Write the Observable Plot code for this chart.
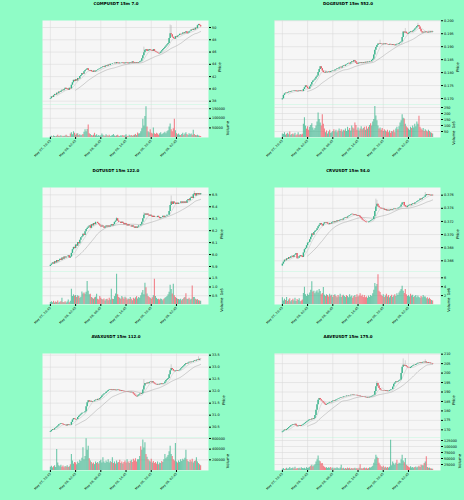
<!DOCTYPE html>
<html><head><meta charset="utf-8">
<script src="https://cdn.jsdelivr.net/npm/d3@7"></script>
<script src="https://cdn.jsdelivr.net/npm/@observablehq/plot@0.6"></script>
<style>
html,body{margin:0;padding:0;background:#8ffcc6;overflow:hidden}
#fig{position:relative;width:464px;height:500px;font-family:"DejaVu Sans",sans-serif}
.pl{position:absolute}
#titles{position:absolute;left:0;top:0;pointer-events:none}
</style></head><body><div id="fig"></div>
<script>
// ---------- time axis ----------
const year = 2024;
const firstCandle = "May 07, 20:45";
const tickLabels = ["May 07, 20:45","May 08, 02:45","May 08, 08:45","May 08, 14:45","May 08, 20:45","May 09, 02:45"];

// ---------- titles ----------
const titles = ["COMPUSDT 15m 7.0","DOGEUSDT 15m 552.0","DOTUSDT 15m 122.0","CRVUSDT 15m 54.0","AVAXUSDT 15m 112.0","AAVEUSDT 15m 175.0"];

// ---------- COMP ----------
const compOpen0 = 38.3;
const compClose = [38.4,38.7,38.6,38.9,39.1,39.0,39.3,39.2,39.5,39.4,
39.6,39.8,39.7,39.9,40.1,39.9,40.0,39.8,40.1,40.0,
40.6,41.0,41.4,41.2,41.5,41.3,41.7,41.6,42.0,42.2,
42.5,42.4,42.8,43.0,43.1,43.3,43.0,42.9,43.0,42.8,
42.7,42.9,42.75,42.9,43.0,43.1,43.2,43.3,43.4,43.5,
43.6,43.5,43.7,43.8,43.7,43.9,43.8,44.0,44.0,44.1,
44.1,44.2,44.1,44.3,44.2,44.1,44.2,44.2,44.3,44.2,
44.1,44.2,44.3,44.2,44.1,44.2,44.3,44.2,44.4,44.2,
44.3,44.2,44.3,44.2,44.3,44.4,44.5,44.9,45.4,45.9,
46.3,46.4,46.1,46.2,46.4,46.3,46.2,46.1,46.4,46.1,
46.0,45.9,45.8,45.7,45.8,46.0,46.2,46.4,46.6,46.8,
47.0,47.2,47.4,48.2,49.0,48.8,48.4,48.2,48.1,48.5,
48.4,48.6,48.7,48.9,48.8,48.9,49.1,49.0,49.2,49.3,
49.0,49.1,49.3,49.4,49.6,49.5,49.7,49.6,49.9,49.8,
50.3,50.5,50.3,50.1];
const compVolK = [4,6,3,8,5,4,7,12,5,6,
9,4,6,5,8,12,6,5,4,18,
25,14,30,22,12,18,20,10,14,9,
12,15,28,40,30,42,65,20,15,10,
8,12,22,9,14,7,10,6,9,18,
12,8,6,14,9,7,12,5,8,10,
16,8,6,9,12,7,5,9,8,11,
6,9,14,7,5,12,8,10,6,9,
12,16,10,24,18,20,30,45,95,60,
110,160,55,30,25,40,22,18,50,20,
15,22,18,12,20,25,14,18,22,28,
20,30,35,55,70,40,30,45,95,35,
20,14,18,12,10,15,22,12,18,25,
15,10,20,14,18,12,38,15,10,9,
12,8,6,5];
const compSpikes = [[89,46.8],[114,50.4],[115,50.3]];
const compPriceTicks = [38,40,42,44,46,48,50];
const compVolTicks = [50000,100000,150000];

// ---------- DOGE ----------
const dogeOpen0 = 0.1695;
const dogeClose = [.1699,.1712,.1718,.1721,.1719,.1722,.1725,.1723,.1726,.1728,
.1727,.1729,.1731,.1728,.1726,.1729,.1727,.1730,.1728,.1727,
.1735,.1742,.1749,.1744,.1738,.1736,.1745,.1752,.1762,.1768,
.1771,.1775,.1782,.1787,.1800,.1812,.1823,.1815,.1806,.1800,
.1798,.1802,.1799,.1801,.1803,.1800,.1804,.1805,.1807,.1806,
.1810,.1812,.1815,.1814,.1819,.1821,.1818,.1823,.1826,.1824,
.1829,.1831,.1834,.1836,.1833,.1838,.1842,.1840,.1847,.1843,
.1836,.1831,.1834,.1837,.1835,.1838,.1836,.1839,.1837,.1840,
.1838,.1841,.1840,.1843,.1842,.1847,.1852,.1868,.1886,.1897,
.1905,.1910,.1908,.1911,.1909,.1907,.1910,.1908,.1911,.1909,
.1908,.1906,.1909,.1907,.1905,.1908,.1906,.1904,.1907,.1909,
.1908,.1912,.1915,.1918,.1935,.1957,.1953,.1956,.1951,.1948,
.1952,.1955,.1958,.1956,.1960,.1963,.1968,.1972,.1978,.1982,
.1976,.1966,.1958,.1953,.1956,.1954,.1957,.1955,.1953,.1956,
.1954,.1957,.1955,.1957];
const dogeVol1e5 = [30,25,40,20,28,35,22,45,18,25,
30,20,35,15,22,40,18,25,20,28,
110,165,95,70,90,60,85,100,114,80,
60,75,95,130,205,150,120,95,190,110,
70,40,55,30,45,60,35,40,50,65,
45,60,40,55,70,50,65,45,60,55,
70,50,85,60,75,55,95,80,70,120,
100,60,80,55,70,90,65,75,85,60,
90,70,85,100,115,95,130,150,258,180,
140,95,70,80,60,75,50,65,55,45,
60,40,55,35,50,45,60,40,70,85,
65,90,120,140,190,160,155,110,90,80,
70,60,85,75,95,80,110,90,130,110,
178,85,70,60,75,50,65,55,45,60,
50,40,35,30];
const dogeSpikes = [[93,.1925],[117,.1970],[129,.1990]];
const dogePriceTicks = [0.170,0.175,0.180,0.185,0.190,0.195,0.200];
const dogeVolTicks = [50,100,150,200,250];

// ---------- DOT ----------
const dotOpen0 = 5.90;
const dotClose = [5.91,5.92,5.93,5.92,5.94,5.93,5.95,5.94,5.95,5.96,
5.95,5.97,5.96,5.98,5.97,5.98,5.98,5.99,5.97,5.98,
6.01,6.04,6.06,6.05,6.08,6.07,6.10,6.09,6.12,6.14,
6.15,6.17,6.16,6.19,6.21,6.22,6.23,6.24,6.22,6.25,
6.24,6.26,6.25,6.27,6.27,6.26,6.25,6.24,6.23,6.24,
6.23,6.22,6.23,6.24,6.23,6.24,6.23,6.24,6.25,6.24,
6.25,6.27,6.28,6.30,6.28,6.27,6.27,6.26,6.27,6.26,
6.25,6.26,6.25,6.24,6.25,6.24,6.24,6.23,6.24,6.23,
6.22,6.23,6.22,6.23,6.24,6.24,6.25,6.27,6.30,6.33,
6.34,6.33,6.34,6.33,6.32,6.33,6.32,6.31,6.32,6.31,
6.31,6.31,6.32,6.31,6.30,6.31,6.31,6.32,6.31,6.32,
6.32,6.33,6.33,6.36,6.41,6.44,6.42,6.44,6.43,6.42,
6.43,6.42,6.43,6.43,6.44,6.43,6.44,6.43,6.44,6.43,
6.45,6.46,6.45,6.47,6.48,6.47,6.50,6.51,6.49,6.51,
6.50,6.51,6.50,6.51];
const dotVol1e5 = [.12,.15,.10,.18,.08,.14,.11,.20,.09,.13,
.15,.35,.12,.10,.16,.08,.14,.25,.10,.18,
.87,.45,.55,.48,.52,.40,.50,.45,.35,.42,
.71,.60,.65,.58,.70,1.31,.75,.55,.58,.40,
.35,.30,.38,.42,.58,.30,.25,.45,.35,.28,
.25,.32,.20,.28,.30,.22,.35,.25,.87,.30,
.28,.45,.60,1.73,.55,.40,.35,.30,.45,.38,
.30,.42,.35,.25,.32,.28,.40,.30,.22,.35,
.30,.38,.45,.32,.40,.35,.50,.65,.80,.55,
1.21,.96,.60,.45,.40,.35,.30,.38,.50,1.44,
.45,.35,.28,.30,.25,.32,.28,.22,.30,.35,
.40,.45,.55,.70,1.10,.85,.60,1.15,.50,.40,
.35,.30,.28,.25,.30,.22,.28,.35,.40,.62,
.30,.28,.35,.25,.30,1.06,.40,.40,.30,.25,
.28,.22,.20,.18];
const dotSpikes = [[63,6.31],[89,6.35],[115,6.49],[137,6.53]];
const dotPriceTicks = [5.9,6.0,6.1,6.2,6.3,6.4,6.5];
const dotVolTicks = [0.5,1.0,1.5];

// ---------- CRV ----------
const crvOpen0 = 0.3652;
const crvClose = [.3655,.3658,.3661,.3660,.3663,.3662,.3665,.3664,.3666,.3667,
.3665,.3668,.3669,.3671,.3663,.3664,.3666,.3668,.3667,.3665,
.3672,.3677,.3679,.3683,.3687,.3688,.3692,.3696,.3701,.3699,
.3703,.3705,.3706,.3709,.3712,.3714,.3717,.3715,.3713,.3716,
.3718,.3717,.3718,.3716,.3715,.3717,.3716,.3718,.3719,.3718,
.3720,.3719,.3721,.3720,.3721,.3722,.3723,.3722,.3724,.3725,
.3726,.3725,.3727,.3728,.3729,.3730,.3731,.3730,.3729,.3730,
.3729,.3728,.3729,.3728,.3726,.3724,.3722,.3721,.3720,.3719,
.3718,.3718,.3719,.3720,.3721,.3722,.3723,.3727,.3735,.3742,
.3746,.3743,.3741,.3740,.3739,.3738,.3739,.3737,.3738,.3736,
.3737,.3736,.3737,.3738,.3737,.3738,.3739,.3738,.3739,.3739,
.3740,.3741,.3742,.3745,.3748,.3749,.3744,.3742,.3741,.3743,
.3744,.3745,.3744,.3746,.3747,.3746,.3748,.3749,.3750,.3751,
.3752,.3754,.3753,.3755,.3756,.3757,.3759,.3761,.3760,.3761,
.3760,.3759,.3760,.3759];
const crvVol1e6 = [1.5,.8,1.2,.9,1.6,.7,1.0,1.3,.6,.9,
1.2,.8,1.4,.7,1.1,.9,1.3,.6,.8,1.0,
2.5,3.9,2.2,1.8,2.3,2.0,2.6,3.2,5.1,2.8,
3.0,2.4,2.8,3.1,2.6,3.4,2.9,2.2,2.5,3.8,
2.1,1.8,2.2,2.0,1.7,2.3,1.9,2.1,1.6,2.0,
2.2,1.8,1.5,2.0,1.7,2.3,1.6,1.9,2.1,1.8,
1.6,2.0,1.8,1.5,2.2,1.7,1.9,1.4,1.8,2.0,
1.6,2.2,1.7,1.9,2.4,1.8,2.1,1.6,2.0,1.5,
1.7,1.4,1.9,1.6,2.0,1.8,2.4,3.2,4.7,4.0,
4.5,6.7,3.0,2.7,2.1,1.8,2.2,1.6,1.9,2.3,
1.7,2.0,1.5,1.8,2.1,1.6,1.9,2.2,1.8,2.4,
2.0,2.6,3.0,3.4,4.1,3.0,2.5,3.4,2.2,1.8,
2.0,1.7,2.3,1.9,2.1,1.6,1.8,2.0,1.5,1.9,
1.6,1.4,1.8,1.5,2.0,1.7,1.7,1.3,1.5,1.2,
1.4,1.1,.9,.8];
const crvSpikes = [[89,.3754],[90,.3752],[136,.3764]];
const crvPriceTicks = [0.366,0.368,0.370,0.372,0.374,0.376];
const crvVolTicks = [2,4,6];

// ---------- AVAX ----------
const avaxOpen0 = 30.28;
const avaxClose = [30.31,30.36,30.40,30.38,30.44,30.47,30.51,30.55,30.60,30.62,
30.65,30.63,30.60,30.57,30.58,30.55,30.60,30.57,30.59,30.58,
30.70,30.80,30.86,30.83,30.80,30.82,30.90,30.95,31.00,31.04,
31.08,31.09,31.10,31.14,31.35,31.52,31.60,31.55,31.58,31.54,
31.57,31.56,31.60,31.63,31.61,31.66,31.64,31.69,31.74,31.80,
31.84,31.88,31.90,31.95,31.99,32.03,32.05,32.07,32.04,32.06,
32.03,32.05,32.02,32.04,32.06,32.04,32.01,32.03,31.99,32.00,
31.98,31.97,31.95,31.97,31.94,31.96,31.93,31.95,31.93,31.88,
31.83,31.79,31.76,31.80,31.84,31.88,31.86,31.90,32.05,32.22,
32.32,32.30,32.34,32.31,32.36,32.38,32.35,32.39,32.34,32.30,
32.27,32.25,32.28,32.26,32.29,32.31,32.28,32.30,32.32,32.38,
32.44,32.49,32.53,32.68,32.85,32.94,32.90,32.84,32.81,32.84,
32.86,32.83,32.85,32.88,32.93,32.98,33.02,33.06,33.11,33.15,
33.13,33.17,33.20,33.18,33.22,33.20,33.24,33.27,33.25,33.29,
33.31,33.28,33.33,33.32];
const avaxVolK = [60,80,50,70,90,55,394,140,90,70,
100,60,85,50,75,65,90,55,70,110,
300,180,120,150,140,110,160,130,190,170,
230,425,200,260,594,380,456,220,180,150,
120,140,110,160,130,150,120,170,190,140,
237,160,130,180,150,200,140,170,150,237,
130,160,120,180,140,150,190,130,160,120,
150,180,140,200,160,130,170,190,150,210,
180,220,160,200,200,260,444,380,569,420,
519,300,250,200,180,160,210,140,170,130,
150,120,160,110,140,130,170,150,200,300,
220,250,280,350,456,300,260,200,180,506,
160,140,180,150,200,170,210,190,230,381,
200,170,150,190,160,210,140,170,180,237,
160,130,110,90];
const avaxSpikes = [[89,32.48],[115,33.1],[141,33.43]];
const avaxPriceTicks = [30.5,31.0,31.5,32.0,32.5,33.0,33.5];
const avaxVolTicks = [200000,400000,600000];

// ---------- AAVE ----------
const aaveOpen0 = 168.5;
const aaveClose = [168.9,169.4,169.9,169.6,170.2,170.7,171.2,171.6,172.1,172.4,
172.8,172.5,173.0,172.2,171.6,171.9,172.3,171.8,172.2,172.5,
172.9,173.3,173.8,174.2,174.6,175.1,175.4,175.2,175.7,175.5,
176.0,177.6,180.4,183.2,185.6,186.6,185.9,185.2,184.8,184.2,
183.6,183.0,183.4,183.8,184.1,184.5,184.3,184.8,185.2,185.0,
185.4,185.8,186.1,186.3,186.6,186.8,187.1,187.0,187.4,187.6,
187.5,187.9,187.8,188.1,188.0,188.3,188.2,188.4,188.1,188.3,
188.3,188.0,187.7,187.9,187.5,187.6,187.4,187.2,187.3,187.0,
186.8,187.1,186.9,187.2,187.4,187.7,188.0,188.3,190.2,192.8,
194.5,193.2,191.8,191.0,190.6,190.8,190.5,190.7,190.3,190.6,
190.2,190.4,190.8,191.1,191.3,192.6,194.1,194.8,195.4,195.1,
195.6,195.9,196.3,199.8,203.1,204.2,203.6,203.9,203.3,202.8,
202.6,202.4,203.0,203.5,203.8,204.2,204.0,204.5,204.8,205.2,
205.0,205.4,205.1,205.5,205.7,205.4,205.9,205.3,205.6,205.1,
205.3,204.9,205.0,204.7];
const aaveVolK = [5,8,4,6,9,5,7,12,6,8,
10,6,14,5,8,7,9,6,11,8,
7,9,6,12,8,10,14,18,22,16,
20,24,35,45,60,40,36,28,29,18,
14,10,12,8,11,9,13,7,10,6,
9,7,11,8,6,10,22,7,9,5,
8,6,10,7,9,5,8,6,7,9,
6,8,5,9,24,7,6,8,10,7,
9,6,8,11,10,14,18,30,45,64,
55,50,30,22,16,12,18,10,14,9,
12,10,14,126,20,35,28,22,30,43,
25,30,28,45,64,40,32,50,22,18,
14,11,16,10,13,9,12,15,10,14,
18,12,22,20,20,29,35,57,12,9,
10,7,6,5];
const aaveSpikes = [[90,195.6],[115,207.5],[117,206.5],[136,207.0]];
const aavePriceTicks = [170,175,180,185,190,195,200,205,210];
const aaveVolTicks = [25000,50000,75000,100000,125000];

// ---------- panel configuration ----------
const panels = [
  {title: titles[0], open0: compOpen0, close: compClose, vol: compVolK, volUnit: 1000, spikes: compSpikes,
   pDomain: [37.46, 51.14], pTicks: compPriceTicks, pFmt: d3.format("d"),
   vDomain: [0, 172000], vTicks: compVolTicks, vFmt: d3.format("d"), vLabel: "Volume"},
  {title: titles[1], open0: dogeOpen0, close: dogeClose, vol: dogeVol1e5, volUnit: 1, spikes: dogeSpikes,
   pDomain: [0.1677, 0.2001], pTicks: dogePriceTicks, pFmt: d3.format(".3f"),
   vDomain: [0, 275], vTicks: dogeVolTicks, vFmt: d3.format("d"), vLabel: "Volume  1e5"},
  {title: titles[2], open0: dotOpen0, close: dotClose, vol: dotVol1e5, volUnit: 1, spikes: dotSpikes,
   pDomain: [5.858, 6.5614], pTicks: dotPriceTicks, pFmt: d3.format(".1f"),
   vDomain: [0, 1.884], vTicks: dotVolTicks, vFmt: d3.format(".1f"), vLabel: "Volume  1e5"},
  {title: titles[3], open0: crvOpen0, close: crvClose, vol: crvVol1e6, volUnit: 1, spikes: crvSpikes,
   pDomain: [0.36437, 0.37717], pTicks: crvPriceTicks, pFmt: d3.format(".3f"),
   vDomain: [0, 7.42], vTicks: crvVolTicks, vFmt: d3.format("d"), vLabel: "Volume  1e6"},
  {title: titles[4], open0: avaxOpen0, close: avaxClose, vol: avaxVolK, volUnit: 1000, spikes: avaxSpikes,
   pDomain: [30.07, 33.569], pTicks: avaxPriceTicks, pFmt: d3.format(".1f"),
   vDomain: [0, 618000], vTicks: avaxVolTicks, vFmt: d3.format("d"), vLabel: "Volume"},
  {title: titles[5], open0: aaveOpen0, close: aaveClose, vol: aaveVolK, volUnit: 1000, spikes: aaveSpikes,
   pDomain: [165.95, 210.35], pTicks: aavePriceTicks, pFmt: d3.format("d"),
   vDomain: [0, 137500], vTicks: aaveVolTicks, vFmt: d3.format("d"), vLabel: "Volume"}
];

// ---------- layout ----------
const UP = "#34b48a", DOWN = "#f05a66";
const colLeft = [42, 274], colCenter = [116, 348];
const rowTop = [20, 186.7, 353.3], titleY = [3.4, 170, 336];
const PW = 166, PH = 84, VH = 33, ML = 30, MR = 24, XB = 32;
const FONT = "DejaVu Sans";
const TICK_FS = 3.4, LAB_FS = 3.8, CW = 0.636 * TICK_FS;

const parse = s => d3.utcParse("%Y %b %d, %H:%M")(year + " " + s);
const t0 = parse(firstCandle);
const STEP = 15 * 60000;
const tickDates = tickLabels.map(parse);
const fmtDate = d3.utcFormat("%b %d, %H:%M");

const fig = document.getElementById("fig");
const gridStyle = {stroke: "#d6d6d6", strokeOpacity: 1, strokeWidth: 0.5};
const baseStyle = {fontFamily: FONT, fontSize: TICK_FS + "px", background: "transparent", overflow: "visible", maxWidth: "none", color: "#000"};

const tsvg = d3.select(fig).append("svg").attr("id", "titles").attr("width", 464).attr("height", 500);

panels.forEach((p, k) => {
  const col = k % 2, row = Math.floor(k / 2);
  const n = p.close.length;
  const xDomain = [new Date(+t0 - 7.5 * STEP), new Date(+t0 + (n - 1 + 7.5) * STEP)];
  const spike = new Map(p.spikes);
  const data = p.close.map((c, i) => {
    const o = i ? p.close[i - 1] : p.open0;
    const hi = Math.max(o, c, spike.get(i) ?? -Infinity);
    return {t: new Date(+t0 + i * STEP), o, c, hi, lo: Math.min(o, c), up: c >= o, v: p.vol[i] * p.volUnit};
  });
  const ma = w => data.map((d, i) => ({t: d.t, m: i >= w - 1 ? d3.mean(p.close.slice(i - w + 1, i + 1)) : NaN}));
  const ma7 = ma(7), ma25 = ma(25);
  const maxLen = d3.max(p.pTicks, d => p.pFmt(d).length);
  const vMaxLen = d3.max(p.vTicks, d => p.vFmt(d).length);

  const price = Plot.plot({
    width: ML + PW + MR, height: PH, marginLeft: ML, marginRight: MR, marginTop: 0, marginBottom: 0,
    style: baseStyle,
    x: {type: "utc", domain: xDomain, axis: null},
    y: {domain: p.pDomain, axis: null},
    marks: [
      Plot.frame({fill: "#f6f6f6", stroke: "none"}),
      Plot.gridX({ticks: tickDates, ...gridStyle}),
      Plot.gridY({ticks: p.pTicks, ...gridStyle}),
      Plot.lineY(ma25, {x: "t", y: "m", stroke: "#b0b0b0", strokeWidth: 0.6}),
      Plot.lineY(ma7, {x: "t", y: "m", stroke: "#cacaca", strokeWidth: 0.6}),
      Plot.ruleX(data, {x: "t", y1: "lo", y2: "hi", stroke: "#b8b8b8", strokeWidth: 0.6}),
      Plot.ruleX(data.filter(d => d.up), {x: "t", y1: "o", y2: "c", stroke: UP, strokeWidth: 1.4}),
      Plot.ruleX(data.filter(d => !d.up), {x: "t", y1: "o", y2: "c", stroke: DOWN, strokeWidth: 1.4}),
      Plot.axisY({ticks: p.pTicks, anchor: "right", tickSize: 2, tickPadding: 1.5, tickFormat: p.pFmt, label: null, fontSize: TICK_FS}),
      Plot.text(["Price"], {frameAnchor: "right", dx: 3.5 + maxLen * CW + 3, rotate: -90, text: d => d, fontSize: LAB_FS})
    ]
  });
  price.classList.add("pl");
  price.style.left = (colLeft[col] - ML) + "px";
  price.style.top = rowTop[row] + "px";
  fig.appendChild(price);

  const vol = Plot.plot({
    width: ML + PW + MR, height: VH + XB, marginLeft: ML, marginRight: MR, marginTop: 0, marginBottom: XB,
    style: baseStyle,
    x: {type: "utc", domain: xDomain},
    y: {domain: p.vDomain},
    marks: [
      Plot.frame({fill: "#f6f6f6", stroke: "none"}),
      Plot.gridX({ticks: tickDates, ...gridStyle}),
      Plot.gridY({ticks: p.vTicks, ...gridStyle}),
      Plot.ruleX(data.filter(d => d.up), {x: "t", y1: 0, y2: "v", stroke: UP, strokeOpacity: 0.7, strokeWidth: 1.1}),
      Plot.ruleX(data.filter(d => !d.up), {x: "t", y1: 0, y2: "v", stroke: DOWN, strokeOpacity: 0.75, strokeWidth: 1.1}),
      Plot.axisY({ticks: p.vTicks, anchor: "right", tickSize: 2, tickPadding: 1.5, tickFormat: p.vFmt, label: null, fontSize: TICK_FS}),
      Plot.axisX({ticks: tickDates, anchor: "bottom", tickSize: 2, tickPadding: 1, tickRotate: -45, tickFormat: fmtDate, label: null, fontSize: 3.1}),
      Plot.text([p.vLabel], {frameAnchor: "right", dx: 3.5 + vMaxLen * CW + 3, rotate: -90, text: d => d, fontSize: LAB_FS})
    ]
  });
  vol.classList.add("pl");
  vol.style.left = (colLeft[col] - ML) + "px";
  vol.style.top = (rowTop[row] + PH) + "px";
  fig.appendChild(vol);

  tsvg.append("text")
    .attr("x", colCenter[col]).attr("y", titleY[row])
    .attr("text-anchor", "middle").attr("dominant-baseline", "central")
    .attr("font-family", FONT).attr("font-weight", "bold").attr("font-size", 4)
    .text(p.title);
});
fig.appendChild(tsvg.node());
</script>
</body></html>
